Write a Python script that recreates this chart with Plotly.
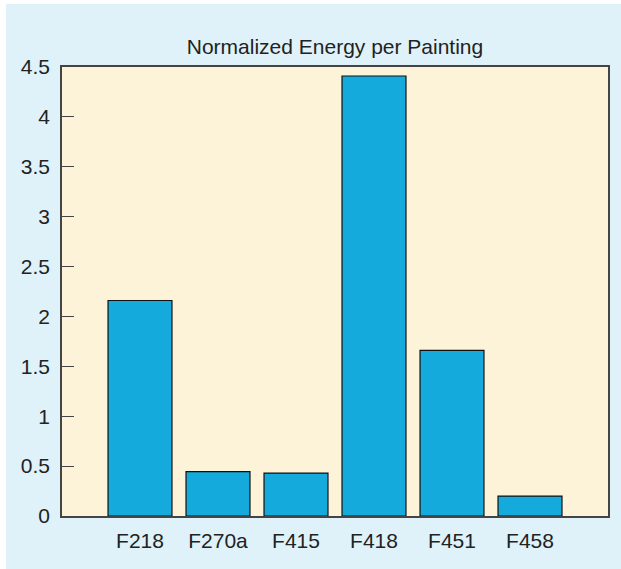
import plotly.graph_objects as go

categories = ["F218", "F270a", "F415", "F418", "F451", "F458"]
values = [2.16, 0.445, 0.43, 4.41, 1.66, 0.20]
y_tickvals = [0, 0.5, 1, 1.5, 2, 2.5, 3, 3.5, 4, 4.5]
y_ticktext = ["0", "0.5", "1", "1.5", "2", "2.5", "3", "3.5", "4", "4.5"]

W, H = 621, 569
ML, MR, MT, MB = 62, 13, 67, 53
PW, PH = W - ML - MR, H - MT - MB

def px_to_paper_x(px):
    return (px - ML) / PW

def px_to_paper_y(py):
    return (H - MB - py) / PH

BLUE_BG = "#dff2fa"
YELLOW_BG = "#fdf3d8"
BAR = "#14aadb"
TEXT = "#222222"
FONT = "Liberation Sans, Arial, sans-serif"

fig = go.Figure()
fig.add_trace(go.Bar(
    x=list(range(len(categories))),
    y=values,
    width=0.82,
    marker=dict(color=BAR, line=dict(color="#111111", width=1.2)),
))

fig.update_layout(
    width=W, height=H,
    margin=dict(l=ML, r=MR, t=MT, b=MB, pad=0),
    paper_bgcolor=BLUE_BG,
    plot_bgcolor=YELLOW_BG,
    showlegend=False,
    font=dict(family=FONT, size=21, color=TEXT),
    title=dict(text="Normalized Energy per Painting", x=0.5, xref="paper",
               y=1 - 46.5 / H, yref="container", yanchor="middle", xanchor="center",
               font=dict(family=FONT, size=21, color=TEXT)),
    shapes=[
        # thin white strips along the left and top edges of the page
        dict(type="rect", xref="paper", yref="paper", layer="below",
             x0=px_to_paper_x(-2), x1=px_to_paper_x(6),
             y0=px_to_paper_y(H + 2), y1=px_to_paper_y(-2),
             fillcolor="white", line=dict(width=0)),
        dict(type="rect", xref="paper", yref="paper", layer="below",
             x0=px_to_paper_x(-2), x1=px_to_paper_x(W + 2),
             y0=px_to_paper_y(4), y1=px_to_paper_y(-2),
             fillcolor="white", line=dict(width=0)),
    ],
    xaxis=dict(
        range=[-1, 6],
        tickvals=list(range(len(categories))),
        ticktext=categories,
        ticks="",
        showgrid=False, zeroline=False,
        showline=True, mirror=True, linecolor="#444444", linewidth=1.5,
        tickfont=dict(family=FONT, size=21, color=TEXT),
        ticklabelstandoff=5,
    ),
    yaxis=dict(
        range=[0, 4.5],
        tickvals=y_tickvals,
        ticktext=y_ticktext,
        ticks="inside", ticklen=12, tickwidth=1.2, tickcolor="#444444",
        showgrid=False, zeroline=False,
        showline=True, mirror=True, linecolor="#444444", linewidth=1.5,
        tickfont=dict(family=FONT, size=21, color=TEXT),
        ticklabelstandoff=6,
    ),
)

fig.write_html(
    "out.html",
    config={"displayModeBar": False},
    post_script="document.body.style.margin='0';document.body.style.overflow='hidden';",
)
